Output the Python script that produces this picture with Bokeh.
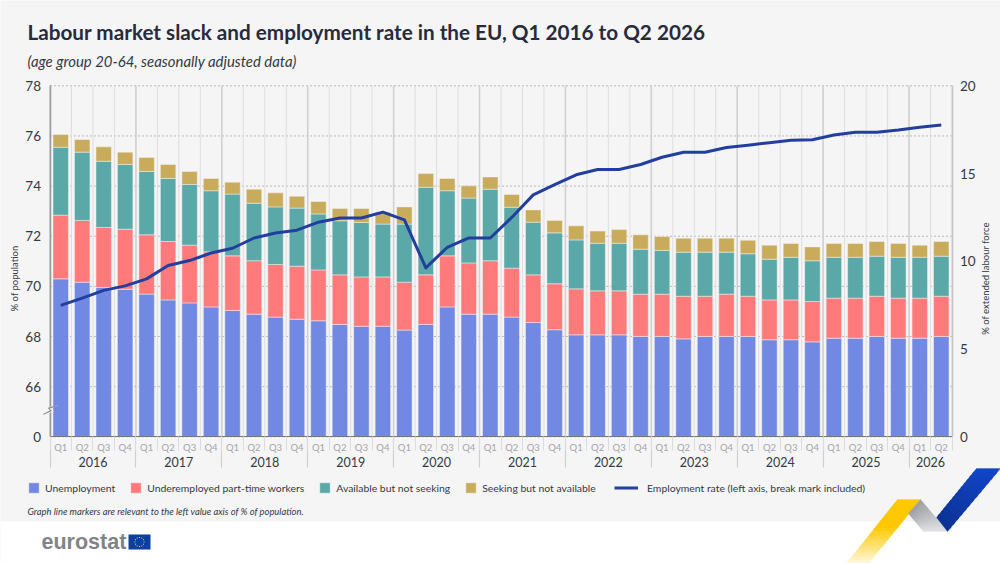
import math
from bokeh.embed import file_html
from bokeh.resources import INLINE
from bokeh.plotting import figure
from bokeh.models import (Range1d, LinearAxis, FixedTicker, ColumnDataSource, Label, BoxAnnotation,
                          PolyAnnotation, Legend, LegendItem)

years = ["2016", "2017", "2018", "2019", "2020", "2021", "2022", "2023", "2024", "2025", "2026"]
quarters = ["Q1", "Q2", "Q3", "Q4"]
periods = [(y, q) for y in years for q in quarters][:42]

unemployment = [9.00, 8.81, 8.51, 8.41, 8.13, 7.80, 7.63, 7.40, 7.20, 6.99, 6.82, 6.70, 6.61, 6.40, 6.30, 6.30, 6.08,
                6.40, 7.40, 6.99, 6.99, 6.82, 6.51, 6.10, 5.81, 5.81, 5.81, 5.72, 5.72, 5.58, 5.72, 5.72, 5.72, 5.53,
                5.53, 5.41, 5.62, 5.62, 5.72, 5.62, 5.62, 5.72]
underemployed = [3.63, 3.52, 3.42, 3.42, 3.38, 3.33, 3.29, 3.14, 3.11, 3.04, 3.00, 3.02, 2.90, 2.83, 2.81, 2.81, 2.73,
                 2.83, 2.91, 2.92, 3.04, 2.79, 2.72, 2.62, 2.62, 2.51, 2.51, 2.41, 2.41, 2.43, 2.29, 2.41, 2.29, 2.27,
                 2.27, 2.30, 2.28, 2.28, 2.29, 2.28, 2.28, 2.29]
available = [3.87, 3.89, 3.77, 3.69, 3.61, 3.59, 3.46, 3.48, 3.52, 3.28, 3.28, 3.31, 3.19, 3.08, 3.10, 3.01, 3.31,
             4.99, 3.71, 3.69, 4.08, 3.47, 3.00, 2.90, 2.79, 2.71, 2.71, 2.56, 2.49, 2.51, 2.51, 2.39, 2.42, 2.32,
             2.43, 2.32, 2.33, 2.33, 2.28, 2.33, 2.33, 2.28]
seeking = [0.72, 0.72, 0.82, 0.70, 0.80, 0.80, 0.74, 0.70, 0.68, 0.80, 0.80, 0.68, 0.71, 0.70, 0.80, 0.68, 0.98,
           0.78, 0.70, 0.70, 0.70, 0.73, 0.70, 0.71, 0.80, 0.69, 0.78, 0.82, 0.79, 0.80, 0.80, 0.80, 0.77, 0.80,
           0.78, 0.79, 0.78, 0.78, 0.84, 0.78, 0.69, 0.84]
employment_rate = [69.24, 69.53, 69.84, 70.02, 70.30, 70.83, 71.03, 71.33, 71.52, 71.93, 72.13, 72.24, 72.56, 72.73,
                   72.73, 72.96, 72.65, 70.74, 71.56, 71.93, 71.93, 72.75, 73.65, 74.06, 74.45, 74.66, 74.66, 74.86,
                   75.15, 75.35, 75.35, 75.54, 75.63, 75.73, 75.83, 75.85, 76.04, 76.15, 76.15, 76.24, 76.35, 76.44]

left_ticks = [64, 66, 68, 70, 72, 74, 76, 78]
right_ticks = [0, 5, 10, 15, 20]
series_names = ["Unemployment", "Underemployed part-time workers", "Available but not seeking", "Seeking but not available"]
line_name = "Employment rate (left axis, break mark included)"

BG = "#f5f5f6"
COLORS = ["#7289e3", "#ff7b7b", "#5ba8a8", "#c9ac5b"]
NARROW = "Lato"
W, H = 1000, 563
PL, PT, PW, PH = 49.5, 85.3, 902, 351   # plot area inside the page, px

N = len(periods)
positions = [i + 0.5 for i in range(N)]
year_centers = {}
for pos, (y, q) in zip(positions, periods):
    year_centers.setdefault(y, []).append(pos)
year_ticks = {sum(v) / len(v): y for y, v in year_centers.items()}
quarter_ticks = {pos: q for pos, (y, q) in zip(positions, periods)}
year_bounds = [min(v) - 0.5 for v in year_centers.values()]
all_bounds = list(range(N + 1))

# The frame fills the page so that annotations can sit anywhere; ranges keep the plot area in place.
kx = PW / N
ky = PH / (left_ticks[-1] - left_ticks[0])
kr = PH / (right_ticks[-1] - right_ticks[0])
bottom_gap = H - PT - PH
p = figure(width=W, height=H, output_backend="svg", toolbar_location=None,
           x_range=Range1d(-PL / kx, (W - PL) / kx),
           y_range=Range1d(left_ticks[0] - bottom_gap / ky, left_ticks[-1] + PT / ky),
           x_axis_location=None, y_axis_location=None, min_border=0,
           frame_width=W, frame_height=H, background_fill_color=BG, border_fill_color=BG, outline_line_color=None)
p.extra_y_ranges = {"right": Range1d(right_ticks[0] - bottom_gap / kr, right_ticks[-1] + PT / kr)}
p.grid.visible = False

# white band under the chart panel
p.add_layout(BoxAnnotation(left=0, right=W, top=521, bottom=H, left_units="canvas", right_units="canvas",
                           top_units="canvas", bottom_units="canvas", fill_color="white", fill_alpha=1,
                           line_color=None, level="underlay"))

# grids
for t in left_ticks:
    p.line([0, N], [t, t], line_color="#b9b9bb", line_dash=[2, 2], line_width=1)
p.segment(x0=all_bounds, x1=all_bounds, y0=[left_ticks[0]] * len(all_bounds), y1=[left_ticks[-1]] * len(all_bounds),
          line_color="#dedee0", line_width=1)
p.segment(x0=year_bounds, x1=year_bounds, y0=[left_ticks[0]] * len(year_bounds), y1=[left_ticks[-1]] * len(year_bounds),
          line_color="#d0d0d2", line_width=1.5)

src = ColumnDataSource(dict(x=positions, u=unemployment, r=underemployed, a=available, s=seeking, e=employment_rate))
bars = p.vbar_stack(["u", "r", "a", "s"], x="x", width=0.72, source=src, color=COLORS, y_range_name="right",
                    line_color=BG, line_width=0.6, line_alpha=0.8)
line = p.line("x", "e", source=src, line_color="#223f9e", line_width=3, line_join="round", line_cap="butt")

# axes
left = LinearAxis(fixed_location=0, bounds=(left_ticks[0], left_ticks[-1]), ticker=FixedTicker(ticks=left_ticks),
                  major_label_overrides={64: "0"}, major_tick_line_color=None, major_tick_out=0, major_tick_in=0,
                  minor_tick_line_color=None, axis_line_color="#9a9a9c", axis_line_width=1.5,
                  major_label_text_font=NARROW, major_label_text_font_size="13.5px", major_label_text_color="#333a45",
                  major_label_standoff=9)
p.add_layout(left, "left")
right = LinearAxis(fixed_location=N, bounds=(right_ticks[0], right_ticks[-1]), y_range_name="right",
                   ticker=FixedTicker(ticks=right_ticks), major_tick_line_color=None, major_tick_out=0, major_tick_in=0,
                   minor_tick_line_color=None, axis_line_color="#c4c4c6", axis_line_width=1.5,
                   major_label_text_font=NARROW, major_label_text_font_size="13.5px", major_label_text_color="#333a45",
                   major_label_standoff=8)
p.add_layout(right, "right")
ticks = LinearAxis(fixed_location=64, bounds=(0, N), ticker=FixedTicker(ticks=year_bounds, minor_ticks=all_bounds),
                   major_tick_in=0, major_tick_out=31, minor_tick_in=0, minor_tick_out=14,
                   major_tick_line_color="#cfcfd1", minor_tick_line_color="#dcdcde", major_tick_line_width=1.2,
                   major_label_text_color=None, major_label_text_font_size="1px",
                   axis_line_color="#77777a", axis_line_width=1.2)
p.add_layout(ticks, "below")
qaxis = LinearAxis(fixed_location=64, ticker=FixedTicker(ticks=list(quarter_ticks)), major_label_overrides=quarter_ticks,
                   major_tick_line_color=None, major_tick_out=0, major_tick_in=0, minor_tick_line_color=None, axis_line_color=None,
                   major_label_text_font=NARROW, major_label_text_font_size="9.5px", major_label_text_color="#a4a4a6",
                   major_label_standoff=5)
p.add_layout(qaxis, "below")
yaxis = LinearAxis(fixed_location=64, ticker=FixedTicker(ticks=list(year_ticks)), major_label_overrides=year_ticks,
                   major_tick_line_color=None, major_tick_out=0, major_tick_in=0, minor_tick_line_color=None, axis_line_color=None,
                   major_label_text_font=NARROW, major_label_text_font_size="12.5px", major_label_text_color="#333a45",
                   major_label_standoff=20)
p.add_layout(yaxis, "below")


def text(s, sx, sy, size, font=NARROW, color="#333a45", style="normal", angle=0, align="left"):
    # sx, sy: page pixels
    p.add_layout(Label(x=sx, y=H - sy, x_units="screen", y_units="screen", text=s,
                       text_font=font, text_font_size=size, text_color=color, text_font_style=style,
                       angle=angle, text_align=align, text_baseline="middle"))


text("Labour market slack and employment rate in the EU, Q1 2016 to Q2 2026", 27, 31, "20.7px", style="bold", color="#262b3d")
text("(age group 20-64, seasonally adjusted data)", 27, 60, "14.9px", style="italic", color="#333a45")
text("% of population", 14, 278, "9.5px", angle=math.pi / 2, align="center")
text("% of extended labour force", 985, 278, "9.5px", angle=math.pi / 2, align="center")
text("Graph line markers are relevant to the left value axis of % of population.", 27, 511, "9.4px", style="italic")
text("eurostat", 41, 541, "21.5px", font="Liberation Sans", style="bold", color="#80848a")

# legends
leg1 = Legend(items=[LegendItem(label=n, renderers=[r]) for n, r in zip(series_names, bars)], orientation="horizontal",
              location=(27, H - 494), padding=0, margin=0, spacing=14, glyph_width=13, glyph_height=13, label_standoff=5,
              background_fill_alpha=0, border_line_color=None, label_text_font=NARROW, label_text_font_size="10.4px",
              label_text_color="#333a45")
p.add_layout(leg1, "center")
leg2 = Legend(items=[LegendItem(label=line_name, renderers=[line])], orientation="horizontal",
              location=(614, H - 494), padding=0, margin=0, glyph_width=24, glyph_height=13, label_standoff=9,
              background_fill_alpha=0, border_line_color=None, label_text_font=NARROW, label_text_font_size="10.4px",
              label_text_color="#333a45")
p.add_layout(leg2, "center")


def poly(pts, color):
    p.add_layout(PolyAnnotation(xs=[a for a, b in pts], ys=[b for a, b in pts], xs_units="canvas", ys_units="canvas",
                                fill_color=color, fill_alpha=1, line_color=color, line_width=1))


def mix(c1, c2, t):
    a = [int(c1[i:i + 2], 16) for i in (1, 3, 5)]
    b = [int(c2[i:i + 2], 16) for i in (1, 3, 5)]
    return "#%02x%02x%02x" % tuple(round(x + (y - x) * t) for x, y in zip(a, b))


def ribbon(tl, tr, br, bl, c1, c2, n=14, hold=0.0):
    lerp = lambda u, v, t: (u[0] + (v[0] - u[0]) * t, u[1] + (v[1] - u[1]) * t)
    for i in range(n):
        t0, t1 = i / n, min(1, (i + 1.5) / n)
        poly([lerp(tl, bl, t0), lerp(tr, br, t0), lerp(tr, br, t1), lerp(tl, bl, t1)],
             mix(c1, c2, max(0, (t0 - hold) / (1 - hold))))


# axis break mark
poly([(42, 414), (50, 410), (47, 407), (57, 405), (50, 408), (53, 411)], BG)
poly([(43, 413.5), (50, 410), (47.5, 407.5), (56, 405), (56, 405.6), (48.6, 408), (51, 410.4), (43, 414)], "#77777a")

# decorative ribbons
ribbon((897, 499), (920, 499), (868, 563), (846, 563), "#ffc800", "#fffbe8", 18, hold=0.4)
ribbon((920, 499), (908, 513), (923, 531), (947, 531), "#9fa1a6", "#e6e7ea", 12)
ribbon((976, 468), (1000, 468), (947, 531), (936, 517), "#1145c8", "#0b3191", 14)

# logo flag
p.add_layout(BoxAnnotation(left=128, right=150, top=534, bottom=549, left_units="canvas", right_units="canvas",
                           top_units="canvas", bottom_units="canvas", fill_color="#0c3f9f", fill_alpha=1, line_color=None))
for k in range(12):
    cx, cy = 139 + 4.6 * math.cos(k * math.pi / 6), 541.5 + 4.6 * math.sin(k * math.pi / 6)
    p.add_layout(BoxAnnotation(left=cx - 0.5, right=cx + 0.5, top=cy - 0.5, bottom=cy + 0.5, left_units="canvas",
                               right_units="canvas", top_units="canvas", bottom_units="canvas",
                               fill_color="#ffd617", fill_alpha=1, line_color=None))

open("out.html", "w").write(file_html(p, INLINE))
